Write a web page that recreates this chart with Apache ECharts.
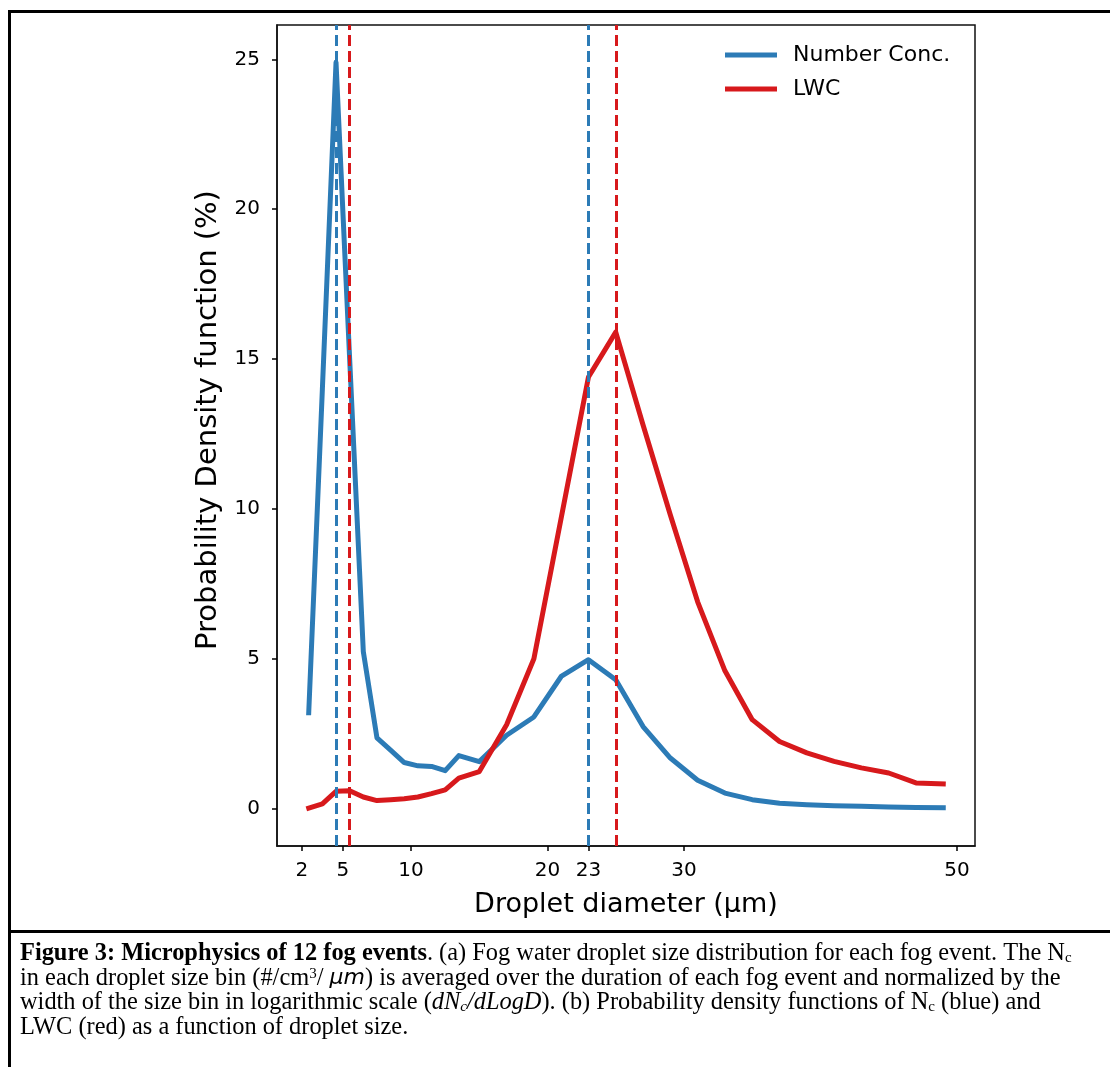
<!DOCTYPE html>
<html><head><meta charset="utf-8">
<script src="https://cdn.jsdelivr.net/npm/echarts@6/dist/echarts.min.js"></script>
<style>html,body{margin:0;padding:0;background:#fff}#c{width:1110px;height:1067px}</style>
</head><body><div id="c"></div>
<script>
// ---- data ----
const diameters = [2.5,3.5,4.5,5.5,6.5,7.5,8.5,9.5,10.5,11.5,12.5,13.5,15,17,19,21,23,25,27,29,31,33,35,37,39,41,43,45,47,49];
const numberConc = [3.2,14.0,24.9,15.0,5.24,2.36,1.95,1.54,1.43,1.41,1.27,1.77,1.57,2.45,3.06,4.41,4.97,4.3,2.74,1.69,0.95,0.52,0.3,0.18,0.13,0.1,0.08,0.06,0.04,0.03];
const lwc = [0.02,0.16,0.58,0.6,0.39,0.27,0.3,0.33,0.39,0.5,0.63,1.02,1.24,2.8,5.0,9.7,14.4,15.9,12.8,9.8,6.9,4.6,2.97,2.24,1.86,1.58,1.36,1.19,0.86,0.83];
const ncPeaks = [4.5, 23];
const lwcPeaks = [5.5, 25];
const xTicks = [2,5,10,20,23,30,50];
const yTicks = [0,5,10,15,20,25];
const seriesNames = ['Number Conc.','LWC'];
const xLabel = 'Droplet diameter (μm)';
const yLabel = 'Probability Density function (%)';
const captionLines = [
  '{b|Figure 3: Microphysics of 12 fog events}. (a) Fog water droplet size distribution for each fog event. The N{sub|c}',
  'in each droplet size bin (#/cm{sup|3}/ {mu|μm}) is averaged over the duration of each fog event and normalized by the',
  'width of the size bin in logarithmic scale ({i|dN}{isub|c}{i|/dLogD}). (b) Probability density functions of N{sub|c} (blue) and',
  'LWC (red) as a function of droplet size.'
];

const BLUE = '#2c7bb6', RED = '#d7191c';
const FONT = 'DejaVu Sans';
const SERIF = 'Liberation Serif';
const CAP = 24.4;
const pair = (xs, ys) => xs.map((x, i) => [x, ys[i]]);

const capRich = {
  b: {fontWeight: 'bold', fontFamily: SERIF, fontSize: CAP, fill: '#000', color: '#000'},
  i: {fontStyle: 'italic', fontFamily: SERIF, fontSize: CAP, fill: '#000', color: '#000'},
  mu: {fontStyle: 'italic', fontFamily: FONT, fontSize: 22, fill: '#000', color: '#000'},
  sub: {fontSize: 15, lineHeight: 14, verticalAlign: 'bottom', fontFamily: SERIF, fill: '#000', color: '#000'},
  isub: {fontSize: 15, lineHeight: 14, verticalAlign: 'bottom', fontStyle: 'italic', fontFamily: SERIF, fill: '#000', color: '#000'},
  sup: {fontSize: 15, lineHeight: 14, verticalAlign: 'top', fontFamily: SERIF, fill: '#000', color: '#000'}
};

const graphics = [
  {type: 'rect', shape: {x: 8, y: 10, width: 1102, height: 3}, style: {fill: '#000'}, silent: true},
  {type: 'rect', shape: {x: 8, y: 10, width: 3, height: 1057}, style: {fill: '#000'}, silent: true},
  {type: 'rect', shape: {x: 8, y: 930, width: 1102, height: 3}, style: {fill: '#000'}, silent: true},
  {type: 'text', x: 208, y: 420, rotation: Math.PI / 2, silent: true,
   style: {text: yLabel, fontFamily: FONT, fontSize: 29, fill: '#000', align: 'center', verticalAlign: 'middle'}}
];
captionLines.forEach((t, i) => {
  graphics.push({
    type: 'text', left: 20, top: 942 + i * 24.4, silent: true,
    style: {text: t, rich: capRich, fontFamily: SERIF, fontSize: CAP, lineHeight: 24, fill: '#000'}
  });
});

const chart = echarts.init(document.getElementById('c'), null, {renderer: 'canvas'});
chart.setOption({
  animation: false,
  textStyle: {fontFamily: FONT},
  grid: {left: 277, top: 25, width: 698, height: 821, show: true, borderColor: '#111', borderWidth: 1.5, outerBoundsMode: 'none', containLabel: false},
  legend: {
    data: seriesNames, orient: 'vertical', left: 725, top: 44, padding: 0,
    itemWidth: 52, itemHeight: 5, itemGap: 12, icon: 'rect',
    textStyle: {fontFamily: FONT, fontSize: 22, lineHeight: 22, color: '#000', padding: [0, 0, 0, 11]}
  },
  xAxis: {
    type: 'value', min: 0.175, max: 51.325,
    name: xLabel, nameLocation: 'middle', nameGap: 45,
    nameTextStyle: {fontFamily: FONT, fontSize: 27, color: '#000'},
    axisLine: {show: true, onZero: false, lineStyle: {color: '#111', width: 1.5}},
    axisTick: {show: true, customValues: xTicks, length: 5, lineStyle: {color: '#000', width: 1.5}},
    axisLabel: {customValues: xTicks, margin: 15, fontSize: 20, color: '#000', fontFamily: FONT},
    splitLine: {show: false}
  },
  yAxis: {
    type: 'value', min: -1.245, max: 26.145,
    axisLine: {show: true, onZero: false, lineStyle: {color: '#111', width: 1.5}},
    axisTick: {show: true, customValues: yTicks, length: 5, lineStyle: {color: '#000', width: 1.5}},
    axisLabel: {customValues: yTicks, margin: 17, fontSize: 20, color: '#000', fontFamily: FONT},
    splitLine: {show: false}
  },
  series: [
    {name: seriesNames[0], type: 'line', data: pair(diameters, numberConc), showSymbol: false, symbol: 'none',
     itemStyle: {color: BLUE}, lineStyle: {color: BLUE, width: 5, join: 'round', cap: 'square'}, z: 2},
    {name: seriesNames[1], type: 'line', data: pair(diameters, lwc), showSymbol: false, symbol: 'none',
     itemStyle: {color: RED}, lineStyle: {color: RED, width: 5, join: 'round', cap: 'square'}, z: 2},
    {name: 'peaks', type: 'line', data: [], z: 3, silent: true,
     markLine: {
       symbol: 'none', silent: true, animation: false, label: {show: false},
       lineStyle: {type: [11, 5], width: 3},
       data: ncPeaks.map(v => ({xAxis: v, lineStyle: {color: BLUE, type: [11, 5], width: 3}}))
         .concat(lwcPeaks.map(v => ({xAxis: v, lineStyle: {color: RED, type: [11, 5], width: 3}})))
     }}
  ],
  graphic: graphics
});
</script></body></html>
